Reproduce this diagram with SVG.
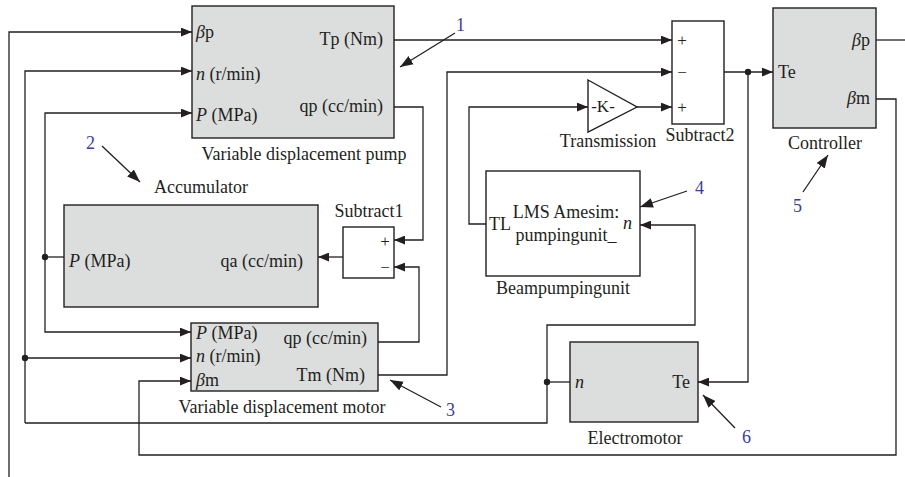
<svg xmlns="http://www.w3.org/2000/svg" width="905" height="477" viewBox="0 0 905 477">
<style>
.blk{fill:#dcdddd;stroke:#231f20;stroke-width:1.4}
.wb{fill:#ffffff;stroke:#231f20;stroke-width:1.4}
.t{font-family:"Liberation Serif",serif;font-size:18px;fill:#231f20}
.s{font-family:"Liberation Serif",serif;font-size:17px;fill:#231f20}
.num{font-family:"Liberation Serif",serif;font-size:18px;fill:#3b3ca0}
.w{fill:none;stroke:#231f20;stroke-width:1.3}
.ptr{fill:none;stroke:#231f20;stroke-width:1.3}
.i{font-style:italic}
</style>
<defs>
<marker id="ah" viewBox="0 0 10 8" refX="10" refY="4" markerWidth="11" markerHeight="9" markerUnits="userSpaceOnUse" orient="auto">
<path d="M0,0 L10,4 L0,8 Z" fill="#231f20"/>
</marker>
<marker id="ph" viewBox="0 0 12 9" refX="12" refY="4.5" markerWidth="13" markerHeight="10" markerUnits="userSpaceOnUse" orient="auto">
<path d="M0,0 L12,4.5 L0,9 Z" fill="#231f20"/>
</marker>
</defs>

<g id="connectors">
<path class="w" d="M876,40 H905"/>
<path class="w" d="M9,477 V32 H192" marker-end="url(#ah)"/>
<path class="w" d="M25,423 V71 H192" marker-end="url(#ah)"/>
<path class="w" d="M25,358 H191" marker-end="url(#ah)"/>
<path class="w" d="M25,423 H547 V325 H695 V225 H640" marker-end="url(#ah)"/>
<path class="w" d="M547,382 H570"/>
<path class="w" d="M45,257 V113 H192" marker-end="url(#ah)"/>
<path class="w" d="M45,257 V332 H191" marker-end="url(#ah)"/>
<path class="w" d="M45,257 H64"/>
<path class="w" d="M394,40 H672" marker-end="url(#ah)"/>
<path class="w" d="M394,107 H423 V240 H394" marker-end="url(#ah)"/>
<path class="w" d="M343,257 H318" marker-end="url(#ah)"/>
<path class="w" d="M378,342 H419 V267 H394" marker-end="url(#ah)"/>
<path class="w" d="M378,375 H447 V72 H672" marker-end="url(#ah)"/>
<path class="w" d="M486,224 H469 V107 H588" marker-end="url(#ah)"/>
<path class="w" d="M637,107 H672" marker-end="url(#ah)"/>
<path class="w" d="M724,72 H773" marker-end="url(#ah)"/>
<path class="w" d="M748,72 V382 H698" marker-end="url(#ah)"/>
<path class="w" d="M876,99 H896 V455 H139 V381 H191" marker-end="url(#ah)"/>
<circle cx="45" cy="257" r="3.2" fill="#231f20"/>
<circle cx="25" cy="358" r="3.2" fill="#231f20"/>
<circle cx="547" cy="382" r="3.2" fill="#231f20"/>
<circle cx="748" cy="72" r="3.2" fill="#231f20"/>
</g>

<g id="pump">
<rect class="blk" x="192" y="6" width="202" height="132"/>
<text class="t" x="196" y="38"><tspan class="i">β</tspan>p</text>
<text class="t" x="196" y="80"><tspan class="i">n</tspan> (r/min)</text>
<text class="t" x="196" y="121"><tspan class="i">P</tspan> (MPa)</text>
<text class="t" x="383" y="45" text-anchor="end">Tp (Nm)</text>
<text class="t" x="383" y="112" text-anchor="end">qp (cc/min)</text>
<text class="t" x="304" y="160" text-anchor="middle">Variable displacement pump</text>
</g>

<g id="accumulator">
<rect class="blk" x="64" y="205" width="254" height="102"/>
<text class="t" x="69" y="267"><tspan class="i">P</tspan> (MPa)</text>
<text class="t" x="303" y="267" text-anchor="end">qa (cc/min)</text>
<text class="t" x="201" y="193" text-anchor="middle">Accumulator</text>
</g>

<g id="subtract1">
<rect class="wb" x="343" y="227" width="51" height="51"/>
<text class="s" x="385" y="247" text-anchor="middle">+</text>
<text class="s" x="385" y="273" text-anchor="middle">−</text>
<text class="t" x="369" y="217" text-anchor="middle">Subtract1</text>
</g>

<g id="motor">
<rect class="blk" x="191" y="323" width="187" height="68"/>
<text class="t" x="196" y="339"><tspan class="i">P</tspan> (MPa)</text>
<text class="t" x="196" y="362"><tspan class="i">n</tspan> (r/min)</text>
<text class="t" x="196" y="386"><tspan class="i">β</tspan>m</text>
<text class="t" x="367" y="344" text-anchor="end">qp (cc/min)</text>
<text class="t" x="365" y="381" text-anchor="end">Tm (Nm)</text>
<text class="t" x="282" y="413" text-anchor="middle">Variable displacement motor</text>
</g>

<g id="transmission">
<path class="wb" d="M588,80 L637,107 L588,132 Z"/>
<text class="s" x="603" y="112" text-anchor="middle">-K-</text>
<text class="t" x="608" y="147" text-anchor="middle">Transmission</text>
</g>

<g id="subtract2">
<rect class="wb" x="672" y="21" width="52" height="103"/>
<text class="s" x="682" y="46" text-anchor="middle">+</text>
<text class="s" x="682" y="78" text-anchor="middle">−</text>
<text class="s" x="682" y="113" text-anchor="middle">+</text>
<text class="t" x="700" y="141" text-anchor="middle">Subtract2</text>
</g>

<g id="controller">
<rect class="blk" x="773" y="8" width="103" height="120"/>
<text class="t" x="778" y="78">Te</text>
<text class="t" x="870" y="46" text-anchor="end"><tspan class="i">β</tspan>p</text>
<text class="t" x="870" y="104" text-anchor="end"><tspan class="i">β</tspan>m</text>
<text class="t" x="825" y="149" text-anchor="middle">Controller</text>
</g>

<g id="beampumpingunit">
<rect class="wb" x="486" y="171" width="154" height="105"/>
<text class="t" x="489" y="230">TL</text>
<text class="t" x="566" y="218" text-anchor="middle">LMS Amesim:</text>
<text class="t" x="566" y="241" text-anchor="middle">pumpingunit_</text>
<text class="t i" x="623" y="229">n</text>
<text class="t" x="563" y="294" text-anchor="middle">Beampumpingunit</text>
</g>

<g id="electromotor">
<rect class="blk" x="570" y="342" width="128" height="80"/>
<text class="t i" x="575" y="388">n</text>
<text class="t" x="690" y="388" text-anchor="end">Te</text>
<text class="t" x="635" y="444" text-anchor="middle">Electromotor</text>
</g>

<g id="callouts">
<text class="num" x="456" y="31">1</text>
<path class="ptr" d="M455,33 L400,67" marker-end="url(#ph)"/>
<text class="num" x="86" y="149">2</text>
<path class="ptr" d="M102,146 L140,182" marker-end="url(#ph)"/>
<text class="num" x="446" y="416">3</text>
<path class="ptr" d="M441,407 L390,380" marker-end="url(#ph)"/>
<text class="num" x="695" y="194">4</text>
<path class="ptr" d="M687,191 L640,207" marker-end="url(#ph)"/>
<text class="num" x="793" y="212">5</text>
<path class="ptr" d="M803,192 L828,155" marker-end="url(#ph)"/>
<text class="num" x="742" y="443">6</text>
<path class="ptr" d="M735,428 L703,395" marker-end="url(#ph)"/>
</g>
</svg>
